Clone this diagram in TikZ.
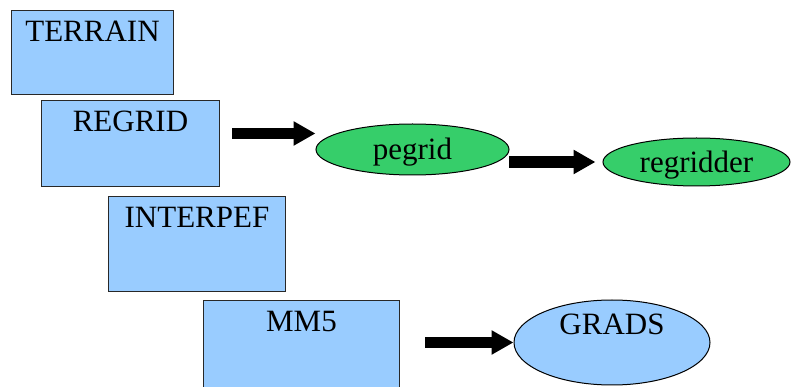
\documentclass[tikz,border=0pt]{standalone}
\usepackage{fontspec}
\setmainfont{Liberation Serif}
\usetikzlibrary{arrows.meta,shapes.geometric}
\definecolor{boxblue}{RGB}{153,204,255}
\definecolor{ellgreen}{RGB}{54,206,106}
\definecolor{edge}{RGB}{40,40,40}
\begin{document}
\begin{tikzpicture}[x=1pt,y=-1pt,
  stage/.style={draw=edge, line width=1pt, fill=boxblue, anchor=north west, inner sep=0pt},
  tool/.style={ellipse, draw=black, line width=1pt, inner sep=0pt},
  lbl/.style={font=\fontsize{31}{34}\selectfont, anchor=base, inner sep=0pt},
  bigarrow/.style={line width=11.5pt, -{Triangle[length=22pt,width=23pt]}}]
\useasboundingbox (0,0) rectangle (793,387);
\clip (0,0) rectangle (793,387);
% boxes
\node[stage, minimum width=162pt, minimum height=84pt] (terrain) at (11,10) {};
\node[lbl] (terrainT) at ([yshift=-32pt]terrain.north) {TERRAIN};
\node[stage, minimum width=178pt, minimum height=86pt] (regrid) at (41,100) {};
\node[lbl] (regridT) at ([yshift=-32pt]regrid.north) {REGRID};
\node[stage, minimum width=177pt, minimum height=95pt] (interpef) at (108,196) {};
\node[lbl] (interpefT) at ([yshift=-32pt]interpef.north) {INTERPEF};
\node[stage, minimum width=196pt, minimum height=100pt] (mm5) at (203,300) {};
\node[lbl] (mm5T) at ([yshift=-32pt]mm5.north) {MM5};
% ellipses
\node[tool, fill=ellgreen, minimum width=193pt, minimum height=51pt] (pegrid) at (412.5,149.5) {};
\node[lbl] (pegridT) at ([yshift=-10.5pt]pegrid.center) {pegrid};
\node[tool, fill=ellgreen, minimum width=187pt, minimum height=48pt] (regridder) at (696.5,162) {};
\node[lbl] (regridderT) at ([yshift=-10.5pt]regridder.center) {regridder};
\node[tool, fill=boxblue, minimum width=196pt, minimum height=85pt] (grads) at (612,342.5) {};
\node[lbl] (gradsT) at ([yshift=7.5pt]grads.center) {GRADS};
% arrows
\coordinate (a1) at (232,133.5);
\coordinate (a2) at (509,162);
\coordinate (a3) at (425,342.5);
\draw[bigarrow] (a1) -- (a1 -| pegrid.west);
\draw[bigarrow] (a2) -- ([xshift=-7pt]a2 -| regridder.west);
\draw[bigarrow] (a3) -- (grads.west);
\end{tikzpicture}
\end{document}
